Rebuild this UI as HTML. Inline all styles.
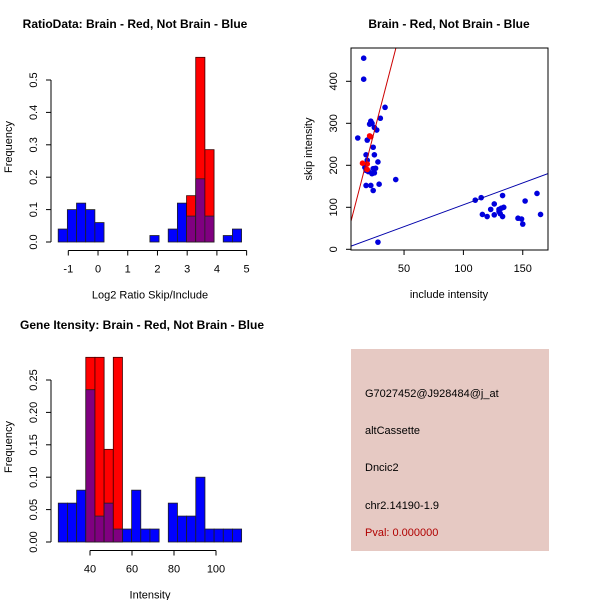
<!DOCTYPE html>
<html><head><meta charset="utf-8"><style>
body{margin:0;background:#fff}
svg{display:block;font-family:"Liberation Sans",sans-serif}
</style></head><body>
<svg id="c" width="600" height="600" viewBox="0 0 600 600">
<rect x="351" y="349" width="198" height="202" fill="#E6C9C3"/>
<g font-size="11" fill="#000">
<text x="365" y="397">G7027452@J928484@j_at</text>
<text x="365" y="434">altCassette</text>
<text x="365" y="471">Dncic2</text>
<text x="365" y="509">chr2.14190-1.9</text>
<text x="365" y="536" fill="#B00000">Pval: 0.000000</text>
</g>
</svg>
<script>
// ---- data ----
const ratioStart = -1.34, ratioWidth = 0.3085;
const ratioBlue = [0.04,0.10,0.12,0.10,0.06,0,0,0,0,0,0.02,0,0.04,0.12,0.08,0.195,0.08,0,0.02,0.04];
const ratioRed  = [0,0,0,0,0,0,0,0,0,0,0,0,0,0,0.143,0.57,0.285,0,0,0];
const ratioXTicks = [-1,0,1,2,3,4,5];
const ratioYTicks = ["0.0","0.1","0.2","0.3","0.4","0.5"];

const intStart = 24.9, intWidth = 4.365;
const intBlue = [0.06,0.06,0.08,0.235,0.04,0.06,0.02,0.02,0.08,0.02,0.02,0,0.06,0.04,0.04,0.10,0.02,0.02,0.02,0.02];
const intRed  = [0,0,0,0.285,0.285,0.143,0.285,0,0,0,0,0,0,0,0,0,0,0,0,0];
const intXTicks = [40,60,80,100];
const intYTicks = ["0.00","0.05","0.10","0.15","0.20","0.25"];

const blueX = [16,16,11,19,22,21,23,25,27,30,34,24,18,25,28,17,18,20,24,26,23,25,18,22,29,24,43,28,19,
  110,115,116,120,123,126,126,130,131,132,133,134,133,146,149,150,152,162,165,130];
const blueY = [455,405,265,260,305,298,300,290,284,312,338,243,225,225,208,195,188,185,192,193,180,182,152,152,155,140,166,17,212,
  117,123,83,78,95,108,82,90,85,98,128,100,78,74,72,60,115,133,83,95];
const redX = [15,19,22,21,19];
const redY = [205,203,268,270,190];
const redLine = [9,10.9];   // intercept, slope
const blueLine = [2,1.04];
const scXTicks = [50,100,150];
const scYTicks = [0,100,200,300,400];

// ---- drawing ----
const svg = document.getElementById('c');
const NS = 'http://www.w3.org/2000/svg';
function mk(tag, attrs, parent){const e=document.createElementNS(NS,tag);for(const k in attrs)e.setAttribute(k,attrs[k]);(parent||svg).appendChild(e);return e;}
function txt(s,attrs,parent){const e=mk('text',attrs,parent);e.textContent=s;return e;}

function hist(cfg){
  const g = mk('g',{});
  
  
  const sx = v => cfg.x0 + (v - cfg.xv0) * cfg.xs;
  const sy = v => cfg.y0 - v * cfg.ys;
  for(let i=0;i<cfg.blue.length;i++){
    const a=cfg.start+i*cfg.width, b=a+cfg.width;
    const r=cfg.red[i], bl=cfg.blue[i];
    if(r>0){
      const e=mk('rect',{x:sx(a),y:sy(r),width:sx(b)-sx(a),height:sy(0)-sy(r),fill:'#FF0000',stroke:'#400000','stroke-width':0.8},g);
      
      
    }
    if(bl>0){
      const e=mk('rect',{x:sx(a),y:sy(bl),width:sx(b)-sx(a),height:sy(0)-sy(bl),fill:r>0?'#800080':'#0000FF',stroke:'#202020','stroke-width':0.8},g);
      
      
    }
  }
  // x axis
  const ax = cfg.xticks;
  mk('line',{x1:sx(ax[0]),x2:sx(ax[ax.length-1]),y1:cfg.xaxY,y2:cfg.xaxY,stroke:'#000'},g);
  ax.forEach(t=>{mk('line',{x1:sx(t),x2:sx(t),y1:cfg.xaxY,y2:cfg.xaxY+5,stroke:'#000'},g);
    txt(String(t),{x:sx(t),y:cfg.xaxY+22,'font-size':11,'text-anchor':'middle'},g);});
  // y axis
  const yt = cfg.yticks;
  mk('line',{x1:51,x2:51,y1:sy(0),y2:sy(parseFloat(yt[yt.length-1])),stroke:'#000'},g);
  yt.forEach(t=>{const y=sy(parseFloat(t));mk('line',{x1:46,x2:51,y1:y,y2:y,stroke:'#000'},g);
    txt(t,{x:37,y:y,'font-size':11,'text-anchor':'middle',transform:`rotate(-90 37 ${y})`},g);});
  const yc=cfg.yLabelY;
  const yl=txt('Frequency',{x:12,y:yc,'font-size':11,'text-anchor':'middle',transform:`rotate(-90 12 ${yc})`});
  
  
  const xl=txt(cfg.xlab,{x:cfg.xlabX,y:cfg.xaxY+48,'font-size':11,'text-anchor':'middle'});
  
  
  const ti=txt(cfg.title,{x:cfg.titleX,y:cfg.titleY,'font-size':12,'font-weight':'bold','text-anchor':'middle'});
  
  
}

hist({name:'ratio-histogram',blue:ratioBlue,red:ratioRed,start:ratioStart,width:ratioWidth,
  x0:68.3,xv0:-1,xs:29.72,y0:242,ys:324,xaxY:250.5,xticks:ratioXTicks,yticks:ratioYTicks,
  xlab:'Log2 Ratio Skip/Include',xlabX:150,yLabelY:147,title:'RatioData: Brain - Red, Not Brain - Blue',titleX:135,titleY:28});
hist({name:'intensity-histogram',blue:intBlue,red:intRed,start:intStart,width:intWidth,
  x0:90,xv0:40,xs:2.1,y0:542,ys:648,xaxY:550.5,xticks:intXTicks,yticks:intYTicks,
  xlab:'Intensity',xlabX:150,yLabelY:447,title:'Gene Itensity: Brain - Red, Not Brain - Blue',titleX:142,titleY:329});

// scatter
(function(){
  const g=mk('g',{});
  
  
  const L=351,R=548,T=48,B=250;
  const sx=v=>344.7+v*1.187, sy=v=>249.3-v*0.42;
  const xmin=(L-344.7)/1.187, xmax=(R-344.7)/1.187;
  const defs=mk('defs',{},g);
  const cp=mk('clipPath',{id:'clipsc'},defs);
  mk('rect',{x:L,y:T,width:R-L,height:B-T},cp);
  const cg=mk('g',{'clip-path':'url(#clipsc)'},g);
  blueX.forEach((x,i)=>{const c=mk('circle',{cx:sx(x),cy:sy(blueY[i]),r:2.8,fill:'#0000DD'},cg);
    
    });
  redX.forEach((x,i)=>{const c=mk('circle',{cx:sx(x),cy:sy(redY[i]),r:2.8,fill:'#FF0000'},cg);
    
    });
  const rl=mk('line',{x1:sx(xmin),y1:sy(redLine[0]+redLine[1]*xmin),x2:sx(xmax),y2:sy(redLine[0]+redLine[1]*xmax),stroke:'#CC0000'},cg);
  
  
  const bl=mk('line',{x1:sx(xmin),y1:sy(blueLine[0]+blueLine[1]*xmin),x2:sx(xmax),y2:sy(blueLine[0]+blueLine[1]*xmax),stroke:'#0000AA'},cg);
  
  
  mk('rect',{x:L,y:T,width:R-L,height:B-T,fill:'none',stroke:'#000'},g);
  scXTicks.forEach(t=>{mk('line',{x1:sx(t),x2:sx(t),y1:B,y2:B+5,stroke:'#000'},g);
    txt(String(t),{x:sx(t),y:B+22,'font-size':11,'text-anchor':'middle'},g);});
  scYTicks.forEach(t=>{const y=sy(t);mk('line',{x1:L-5,x2:L,y1:y,y2:y,stroke:'#000'},g);
    txt(String(t),{x:337,y:y,'font-size':11,'text-anchor':'middle',transform:`rotate(-90 337 ${y})`},g);});
  const xl=txt('include intensity',{x:449,y:298,'font-size':11,'text-anchor':'middle'});
  
  
  const yl=txt('skip intensity',{x:312,y:149,'font-size':11,'text-anchor':'middle',transform:'rotate(-90 312 149)'});
  
  
  const ti=txt('Brain - Red, Not Brain - Blue',{x:449,y:28,'font-size':12,'font-weight':'bold','text-anchor':'middle'});
  
  
})();
</script>
</body></html>
